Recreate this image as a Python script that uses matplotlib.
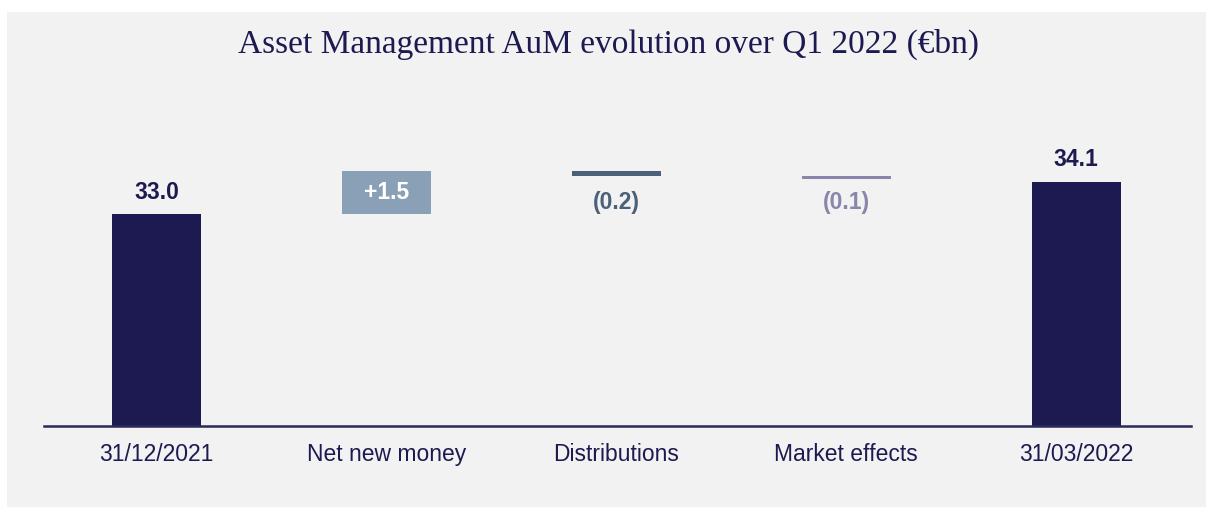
import matplotlib
matplotlib.use("Agg")
import matplotlib.pyplot as plt
from matplotlib.patches import Rectangle

# ---- data ----
categories = ["31/12/2021", "Net new money", "Distributions", "Market effects", "31/03/2022"]
start_value = 33.0
end_value = 34.1
changes = [1.5, -0.2, -0.1]          # net new money, distributions, market effects
value_labels = ["33.0", "+1.5", "(0.2)", "(0.1)", "34.1"]
title = "Asset Management AuM evolution over Q1 2022 (€bn)"

# ---- style ----
NAVY = "#1c1a50"
C_NNM = "#8aa0b6"
C_DIST = "#4a6178"
C_MKT = "#8886aa"
PANEL = "#f2f2f2"

W, H = 1206, 507
fig = plt.figure(figsize=(W / 100, H / 100), dpi=100)
fig.patch.set_facecolor("white")
fig.add_artist(Rectangle((7 / W, 0), 1 - 7 / W, 1 - 12 / H, transform=fig.transFigure,
                         facecolor=PANEL, edgecolor="none", zorder=0))

# axes in pixel coords
ax_left, ax_right = 44, 1191
ax_bottom, ax_top = 426, 100
ax = fig.add_axes([ax_left / W, 1 - ax_bottom / H, (ax_right - ax_left) / W, (ax_bottom - ax_top) / H])
ax.set_facecolor("none")

base = 25.63
ax.set_ylim(base, 36.95)
ax.set_xlim(-0.49, 4.5)
width = 0.387

x = list(range(len(categories)))
# totals
ax.bar(x[0], start_value - base, bottom=base, width=width, color=NAVY, zorder=2)
ax.bar(x[4], end_value - base, bottom=base, width=width, color=NAVY, zorder=2)

# floating changes
colors = [C_NNM, C_DIST, C_MKT]
running = start_value
tops = []
for i, (c, col) in enumerate(zip(changes, colors)):
    lo = running if c > 0 else running + c
    ax.bar(x[i + 1], abs(c), bottom=lo, width=width, color=col, zorder=2)
    tops.append((lo, lo + abs(c)))
    running += c

# labels
lab_kw = dict(ha="center", fontsize=16.5, fontweight="bold", family="Liberation Sans",
              textcoords="offset pixels")
ax.annotate(value_labels[0], (x[0], start_value), xytext=(0, 15), va="baseline", color=NAVY, **lab_kw)
ax.annotate(value_labels[4], (x[4], end_value), xytext=(0, 16), va="baseline", color=NAVY, **lab_kw)
ax.annotate(value_labels[1], (x[1], (tops[0][0] + tops[0][1]) / 2), xytext=(0, 0), va="center",
            color="white", **lab_kw)
ax.annotate(value_labels[2], (x[2], tops[1][0]), xytext=(0, -15), va="top", color=C_DIST, **lab_kw)
ax.annotate(value_labels[3], (x[3], tops[2][0]), xytext=(0, -12), va="top", color=C_MKT, **lab_kw)

# axis styling
for s in ["top", "right", "left"]:
    ax.spines[s].set_visible(False)
ax.spines["bottom"].set_color("#2a2a5a")
ax.spines["bottom"].set_linewidth(1.8)
ax.set_yticks([])
ax.set_xticks(x)
ax.set_xticklabels(categories, fontsize=16.5, family="Liberation Sans", color=NAVY)
ax.tick_params(axis="x", length=0, pad=12)

fig.text(609 / W, 1 - 53 / H, title, ha="center", va="baseline", fontsize=24,
         family="Liberation Serif", color=NAVY)

fig.savefig("out.png", dpi=100, facecolor=fig.get_facecolor())
